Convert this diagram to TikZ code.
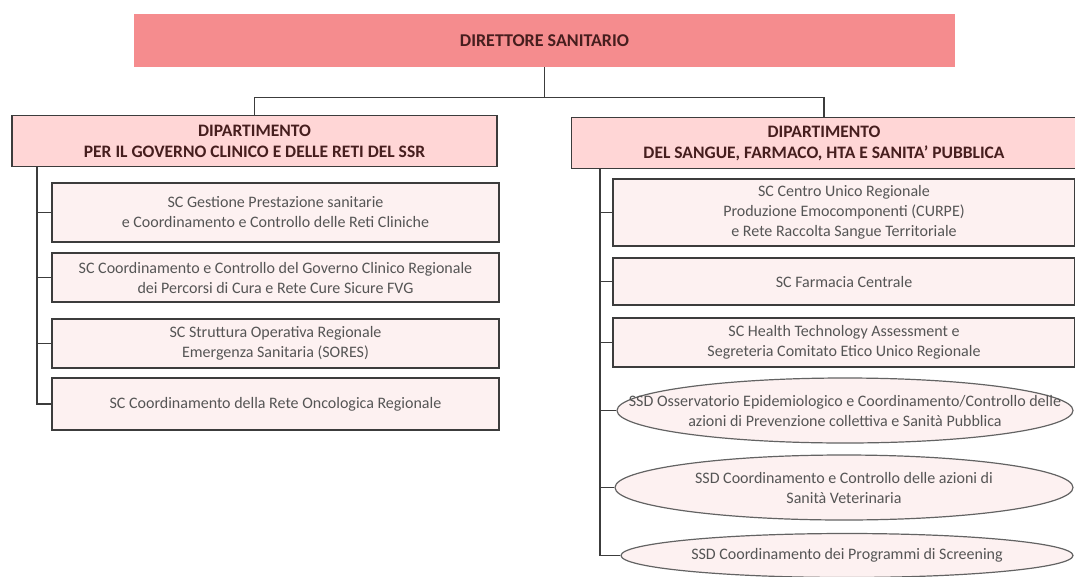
\documentclass[tikz,border=0pt]{standalone}
\usepackage{fontspec}
\setmainfont{Carlito}
\usetikzlibrary{positioning,calc,shapes.geometric}

\definecolor{dirfill}{RGB}{245,140,142}
\definecolor{deptfill}{RGB}{255,214,214}
\definecolor{unitfill}{RGB}{253,241,241}
\definecolor{linegray}{RGB}{60,60,60}
\definecolor{txtgray}{RGB}{85,85,85}
\definecolor{depttxt}{RGB}{70,30,30}

\tikzset{
  dirbox/.style={rectangle,fill=dirfill,minimum width=821pt,minimum height=53pt,inner sep=0pt,
    font=\fontsize{18}{21}\selectfont\bfseries,text=depttxt},
  deptbox/.style={rectangle,draw=linegray,line width=1.6pt,fill=deptfill,minimum height=51pt,inner sep=0pt,
    align=center,font=\fontsize{17.5}{21}\selectfont\bfseries,text=depttxt},
  unitbox/.style={rectangle,draw=linegray,line width=1.6pt,fill=unitfill,inner sep=0pt,
    align=center,font=\fontsize{16}{20}\selectfont,text=txtgray},
  ssdell/.style={ellipse,draw=linegray!80,line width=1.2pt,fill=unitfill,inner sep=0pt},
  ssdtxt/.style={inner sep=0pt,align=center,font=\fontsize{16}{20}\selectfont,text=txtgray},
  conn/.style={draw=linegray,line width=1.2pt}
}

\begin{document}
\begin{tikzpicture}[x=1pt,y=-1pt]
			\useasboundingbox (0,0) rectangle (1075,576);
			\coordinate (lt) at (37,0);
			\coordinate (rt) at (600,0);
			
			\node[dirbox] (dir) at (544.5,40.5) {DIRETTORE SANITARIO};
			\node[deptbox,minimum width=485pt] (ldept) at (254.5,141) {DIPARTIMENTO\\PER IL GOVERNO CLINICO E DELLE RETI DEL SSR};
			\node[deptbox,minimum width=505pt] (rdept) at (824,143) {DIPARTIMENTO\\DEL SANGUE, FARMACO, HTA E SANITA' PUBBLICA};
			
			% left units
			\node[unitbox,minimum width=447pt,minimum height=59pt] (lu1) at (275.5,212.5) {SC Gestione Prestazione sanitarie\\e Coordinamento e Controllo delle Reti Cliniche};
			\node[unitbox,minimum width=447pt,minimum height=49pt] (lu2) at (275.5,277.5) {SC Coordinamento e Controllo del Governo Clinico Regionale\\dei Percorsi di Cura e Rete Cure Sicure FVG};
			\node[unitbox,minimum width=447pt,minimum height=49pt] (lu3) at (275.5,343.5) {SC Struttura Operativa Regionale\\Emergenza Sanitaria (SORES)};
			\node[unitbox,minimum width=447pt,minimum height=52pt] (lu4) at (275.5,404) {SC Coordinamento della Rete Oncologica Regionale};
			
			% right units
			\node[unitbox,minimum width=462pt,minimum height=67pt] (ru1) at (844,212.5) {SC Centro Unico Regionale\\Produzione Emocomponenti (CURPE)\\e Rete Raccolta Sangue Territoriale};
			\node[unitbox,minimum width=462pt,minimum height=47pt] (ru2) at (844,281.5) {SC Farmacia Centrale};
			\node[unitbox,minimum width=462pt,minimum height=49pt] (ru3) at (844,342.5) {SC Health Technology Assessment e\\Segreteria Comitato Etico Unico Regionale};
			\node[ssdell,minimum width=456pt,minimum height=65pt] (ru4) at (845,410.5) {};
			\node[ssdell,minimum width=458pt,minimum height=65pt] (ru5) at (844,487.5) {};
			\node[ssdell,minimum width=452pt,minimum height=44pt] (ru6) at (847,555.5) {};
			\node[ssdtxt] (ru4t) at (ru4) {SSD Osservatorio Epidemiologico e Coordinamento/Controllo delle\\azioni di Prevenzione collettiva e Sanità Pubblica};
			\node[ssdtxt] (ru5t) at (ru5) {SSD Coordinamento e Controllo delle azioni di\\Sanità Veterinaria};
			\node[ssdtxt] (ru6t) at (ru6) {SSD Coordinamento dei Programmi di Screening};
			
			% connectors
			\draw[conn] (dir.south) -- ++(0,30) coordinate (jn);
			\draw[conn] (ldept.north) |- (jn) -| (rdept.north);
			\draw[conn] (ldept.south -| lt) |- (lu4.west);
			\foreach \u in {lu1,lu2,lu3} {\draw[conn] (\u.west) -- (\u.west -| lt);}
			\draw[conn] (rdept.south -| rt) |- (ru6.west);
			\foreach \u in {ru1,ru2,ru3,ru4,ru5} {\draw[conn] (\u.west) -- (\u.west -| rt);}
		\end{tikzpicture}
\end{document}
